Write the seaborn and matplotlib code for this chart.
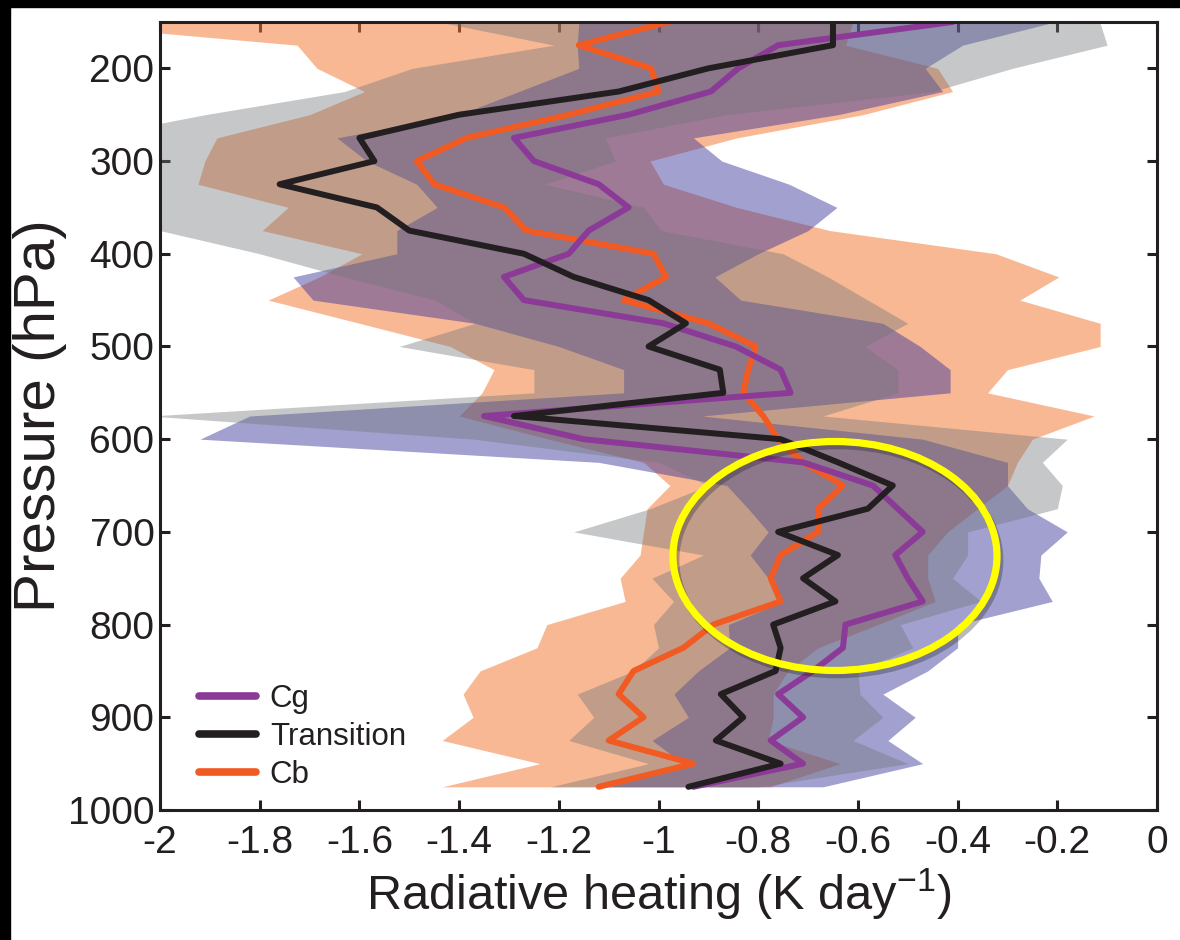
import matplotlib
matplotlib.use("Agg")
import matplotlib.pyplot as plt
import matplotlib.patheffects as pe
from matplotlib.patches import Ellipse, Rectangle
from matplotlib.lines import Line2D
import seaborn as sns

# ---------------- data ----------------
levels = [150, 175, 200, 225, 250, 275, 300, 325, 350, 375, 400, 425, 450, 475,
          500, 525, 550, 575, 600, 625, 650, 675, 700, 725, 750, 775, 800, 825,
          850, 875, 900, 925, 950, 975]

cg_mean = [-0.41, -0.76, -0.84, -0.895, -1.06, -1.29, -1.25, -1.12, -1.06, -1.14,
           -1.18, -1.31, -1.27, -0.99, -0.845, -0.755, -0.735, -1.35, -1.15, -0.71,
           -0.57, -0.52, -0.47, -0.525, -0.50, -0.47, -0.625, -0.63, -0.69, -0.76,
           -0.71, -0.775, -0.71, -0.93]
tr_mean = [-0.65, -0.65, -0.90, -1.08, -1.40, -1.60, -1.57, -1.76, -1.565, -1.50,
           -1.27, -1.17, -1.02, -0.945, -1.02, -0.877, -0.87, -1.29, -0.755, -0.64,
           -0.53, -0.58, -0.76, -0.64, -0.71, -0.645, -0.77, -0.755, -0.765, -0.875,
           -0.83, -0.885, -0.755, -0.94]
cb_mean = [-0.98, -1.16, -1.015, -1.00, -1.18, -1.385, -1.485, -1.45, -1.31, -1.265,
           -1.01, -0.985, -1.07, -0.90, -0.805, -0.82, -0.83, -0.79, -0.76, -0.71,
           -0.63, -0.68, -0.68, -0.755, -0.775, -0.755, -0.89, -0.95, -1.05, -1.08,
           -1.03, -1.10, -0.93, -1.12]

cg_lo = [-1.16, -1.163, -1.16, -1.28, -1.40, -1.645, -1.585, -1.485, -1.444, -1.525,
         -1.525, -1.733, -1.693, -1.368, -1.20, -1.07, -1.07, -1.82, -1.92, -1.12,
         -0.863, -0.82, -0.78, -0.816, -0.78, -0.75, -0.86, -0.857, -0.92, -0.969,
         -0.94, -1.013, -0.95, -1.10]
cg_hi = [-0.205, -0.39, -0.465, -0.43, -0.64, -0.93, -0.873, -0.738, -0.642, -0.70,
         -0.80, -0.887, -0.835, -0.55, -0.475, -0.415, -0.415, -0.913, -0.47, -0.30,
         -0.30, -0.26, -0.18, -0.233, -0.237, -0.21, -0.40, -0.40, -0.46, -0.55,
         -0.485, -0.54, -0.47, -0.67]
tr_lo = [-1.44, -1.21, -1.494, -1.63, -1.91, -2.15, -2.25, -2.2, -2.05, -2.0,
         -1.80, -1.63, -1.448, -1.368, -1.52, -1.25, -1.25, -2.02, -1.37, -1.0,
         -0.9, -1.017, -1.17, -0.91, -1.013, -0.97, -1.01, -1.0, -1.05, -1.163,
         -1.13, -1.18, -1.02, -1.217]
tr_hi = [-0.115, -0.10, -0.29, -0.45, -0.865, -1.107, -1.087, -1.228, -1.03, -0.995,
         -0.75, -0.66, -0.58, -0.50, -0.586, -0.52, -0.52, -0.67, -0.18, -0.23,
         -0.19, -0.20, -0.38, -0.38, -0.41, -0.353, -0.515, -0.49, -0.60, -0.596,
         -0.55, -0.61, -0.50, -0.80]
cb_lo = [-2.25, -1.725, -1.685, -1.59, -1.70, -1.886, -1.91, -1.924, -1.743, -1.795,
         -1.595, -1.68, -1.783, -1.60, -1.418, -1.33, -1.354, -1.40, -1.22, -1.03,
         -0.977, -1.023, -1.03, -1.037, -1.077, -1.067, -1.224, -1.244, -1.358, -1.392,
         -1.372, -1.434, -1.238, -1.434]
cb_hi = [-0.61, -0.625, -0.44, -0.41, -0.59, -0.843, -1.017, -0.99, -0.843, -0.656,
         -0.323, -0.197, -0.275, -0.114, -0.114, -0.30, -0.34, -0.126, -0.25, -0.28,
         -0.30, -0.36, -0.42, -0.46, -0.46, -0.445, -0.56, -0.68, -0.74, -0.77,
         -0.77, -0.78, -0.636, -0.776]

xticks = [-2, -1.8, -1.6, -1.4, -1.2, -1, -0.8, -0.6, -0.4, -0.2, 0]
xtick_labels = ["-2", "-1.8", "-1.6", "-1.4", "-1.2", "-1", "-0.8", "-0.6", "-0.4", "-0.2", "0"]
yticks = [200, 300, 400, 500, 600, 700, 800, 900, 1000]
ytick_labels = ["200", "300", "400", "500", "600", "700", "800", "900", "1000"]

# ---------------- style ----------------
sns.set_theme(style="white")
plt.rcParams["font.family"] = ["Liberation Sans", "DejaVu Sans"]
plt.rcParams["mathtext.default"] = "regular"

INK = "#231f20"
C_CG, C_TR, C_CB = "#8b3a98", "#231f20", "#f15a22"
F_CB, F_CG, F_TR = "#f3732b", "#3b3599", "#70757a"

fig = plt.figure(figsize=(11.8, 9.4), dpi=100)
ax = fig.add_axes([160 / 1180, 1 - 810 / 940, 997 / 1180, 788 / 940])

# bands (orange bottom, purple, gray on top)
ax.fill_betweenx(levels, cb_lo, cb_hi, color=F_CB, alpha=0.5, lw=0, zorder=1)
ax.fill_betweenx(levels, cg_lo, cg_hi, color=F_CG, alpha=0.47, lw=0, zorder=2)
ax.fill_betweenx(levels, tr_lo, tr_hi, color=F_TR, alpha=0.4, lw=0, zorder=3)

# mean profiles
lw = 4.3
sns.lineplot(x=cb_mean, y=levels, orient="y", sort=False, estimator=None,
             color=C_CB, lw=lw, ax=ax, zorder=5, legend=False)
sns.lineplot(x=cg_mean, y=levels, orient="y", sort=False, estimator=None,
             color=C_CG, lw=lw, ax=ax, zorder=6, legend=False)
sns.lineplot(x=tr_mean, y=levels, orient="y", sort=False, estimator=None,
             color=C_TR, lw=lw, ax=ax, zorder=7, legend=False)

# highlight ellipse
ell = Ellipse((-0.646, 726), width=0.65, height=247, fill=False,
              ec="#ffff00", lw=5.2, zorder=10,
              path_effects=[pe.SimpleLineShadow(offset=(2, -3), shadow_color="k", alpha=0.3),
                            pe.Normal()])
ax.add_patch(ell)

ax.set_xlim(-2, 0)
ax.set_ylim(1000, 150)
ax.set_xticks(xticks)
ax.set_xticklabels(xtick_labels)
ax.set_yticks(yticks)
ax.set_yticklabels(ytick_labels)
ax.tick_params(axis="both", direction="in", length=7, width=2.2, color=INK,
               labelsize=28, labelcolor=INK, bottom=True, left=True, top=True, right=True)
ax.tick_params(axis="x", pad=11)
ax.tick_params(axis="y", pad=4)
for s in ax.spines.values():
    s.set_color(INK)
    s.set_linewidth(2.2)
    s.set_zorder(12)

ax.set_xlabel("Radiative heating (K day$^{-1}$)", fontsize=35, color=INK, labelpad=4)
ax.set_ylabel("Pressure (hPa)", fontsize=42, color=INK, labelpad=1)

handles = [Line2D([], [], color=C_CG, lw=5.5, label="Cg"),
           Line2D([], [], color=C_TR, lw=5.5, label="Transition"),
           Line2D([], [], color=C_CB, lw=5.5, label="Cb")]
leg = ax.legend(handles=handles, loc="lower left", bbox_to_anchor=(0.039, 0.026),
                frameon=False, fontsize=22.5, handlelength=1.82, handletextpad=0.45,
                labelspacing=0.25, borderpad=0, borderaxespad=0)
for t in leg.get_texts():
    t.set_color(INK)

# black framing strips of the original screenshot
fig.patches.append(Rectangle((0, 1 - 7 / 940), 1, 7 / 940, transform=fig.transFigure,
                             color="black", zorder=20))
fig.patches.append(Rectangle((0, 0), 10 / 1180, 1, transform=fig.transFigure,
                             color="black", zorder=20))

fig.savefig("out.png", dpi=100)
